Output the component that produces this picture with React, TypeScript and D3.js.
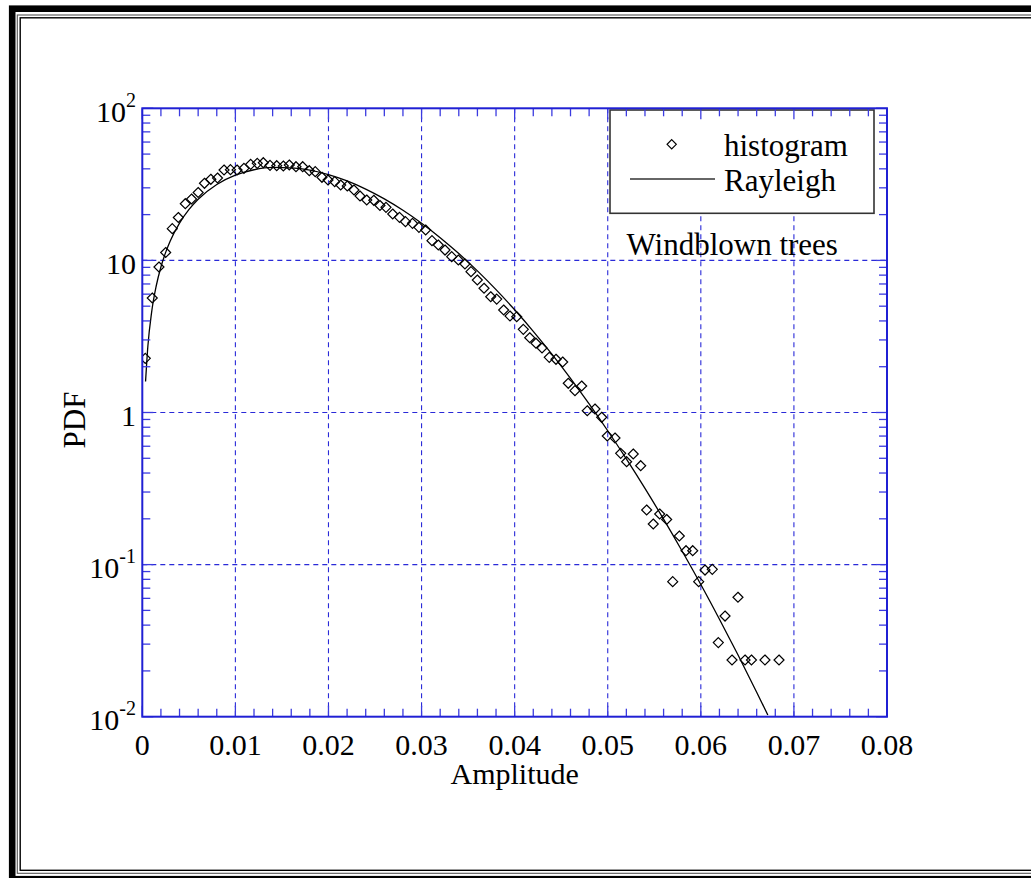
import React from "react";
import * as d3 from "d3";

// ---- data ----
const histX = [
  0.00032, 0.00107, 0.00179, 0.00251, 0.00322, 0.00387, 0.00462, 0.00529, 0.006, 0.00668,
  0.00736, 0.00808, 0.00878, 0.00947, 0.01018, 0.01092, 0.01164, 0.01235, 0.013, 0.01372,
  0.01444, 0.01515, 0.01579, 0.01651, 0.01723, 0.01794, 0.01858, 0.0193, 0.01995, 0.02067,
  0.02131, 0.02202, 0.02274, 0.02339, 0.02411, 0.02487, 0.02553, 0.02618, 0.0269, 0.02763,
  0.02827, 0.02903, 0.02972, 0.03044, 0.03112, 0.0318, 0.03252, 0.03324, 0.03395, 0.03466,
  0.03531, 0.03599, 0.03671, 0.03743, 0.03807, 0.03882, 0.0395, 0.04022, 0.04093, 0.04162,
  0.04229, 0.04294, 0.04372, 0.04444, 0.04516, 0.04576, 0.04648, 0.0472, 0.0478, 0.04863,
  0.04935, 0.04995, 0.05078, 0.05139, 0.05203, 0.05274, 0.05354, 0.05418, 0.05489, 0.05558,
  0.05633, 0.05698, 0.05769, 0.05841, 0.05913, 0.05977, 0.06045, 0.06123, 0.06188, 0.0626,
  0.06335, 0.06399, 0.06475, 0.06544, 0.06689, 0.0684,
];
const histY = [
  2.271, 5.658, 9.05, 11.27, 16.16, 19.14, 23.59, 25.33, 27.95, 32.13,
  34.14, 34.82, 39.3, 39.48, 39.3, 40.32, 42.83, 43.48, 43.88, 42.19,
  41.93, 41.74, 42.38, 41.3, 41.3, 38.88, 38.31, 35.19, 33.78, 32.92,
  31.31, 30.85, 29.03, 26.5, 24.95, 24.84, 22.95, 22.34, 20.19, 19.2,
  17.97, 17.53, 16.5, 15.85, 13.48, 12.63, 11.7, 10.58, 10.06, 9.47,
  8.43, 7.43, 6.56, 5.77, 5.57, 4.72, 4.31, 4.26, 3.52, 3.1,
  2.855, 2.656, 2.306, 2.238, 2.148, 1.556, 1.391, 1.494, 1.027, 1.054,
  0.93, 0.7005, 0.6796, 0.5392, 0.4748, 0.5335, 0.4468, 0.2286, 0.1849, 0.2151,
  0.1979, 0.0772, 0.1542, 0.1234, 0.1234, 0.0772, 0.0921, 0.0931, 0.0307, 0.0459,
  0.0236, 0.061, 0.0236, 0.0236, 0.0236, 0.0236,
];
const curveX = [
  0.00035, 0.0006, 0.001, 0.0015, 0.002, 0.0025, 0.003, 0.004, 0.005, 0.006, 0.008, 0.01,
  0.012, 0.014, 0.016, 0.018, 0.02, 0.022, 0.024, 0.026, 0.028, 0.03, 0.032, 0.034, 0.036,
  0.038, 0.04, 0.042, 0.044, 0.046, 0.048, 0.05, 0.052, 0.054, 0.056, 0.058, 0.06, 0.062,
  0.064, 0.066, 0.0672,
];
const curveY = [
  1.598, 2.737, 4.555, 6.813, 9.048, 11.25, 13.42, 17.6, 21.56, 25.23, 31.56, 36.34,
  39.45, 40.86, 40.54, 39.22, 36.64, 33.28, 29.42, 25.37, 21.35, 17.56, 14.11, 11.09, 8.53,
  6.42, 4.735, 3.419, 2.419, 1.677, 1.139, 0.7587, 0.4953, 0.317, 0.1989, 0.1224, 0.074, 0.04376,
  0.02542, 0.01449, 0.01026,
];
const xTickValues = [0, 0.01, 0.02, 0.03, 0.04, 0.05, 0.06, 0.07, 0.08];
const xTickLabels = ["0", "0.01", "0.02", "0.03", "0.04", "0.05", "0.06", "0.07", "0.08"];
const yTickValues = [0.01, 0.1, 1, 10, 100];
const yTickBase = ["10", "10", "1", "10", "10"];
const yTickExp = ["-2", "-1", "", "", "2"];
const xGridValues = [0.01, 0.02, 0.03, 0.04, 0.05, 0.06, 0.07];
const yGridValues = [0.1, 1, 10];
const legendLabels = ["histogram", "Rayleigh"];
const annotation = "Windblown trees";
const xLabel = "Amplitude";
const yLabel = "PDF";

const W = 1031;
const H = 878;
const P = { left: 142.3, right: 887, top: 108.3, bottom: 716.7 };
const FONT = "'Liberation Serif', 'Times New Roman', serif";
const AXIS = "#2020d4";
const TICK = "#3b3be0";
const GRID = "#2a2ad8";

const diamond = (r: number) => `M0,${-r}L${r},0L0,${r}L${-r},0Z`;

export default function App() {
  const x = d3.scaleLinear().domain([0, 0.08]).range([P.left, P.right]);
  const y = d3.scaleLog().domain([0.01, 100]).range([P.bottom, P.top]);

  const minorX = d3.range(0, 41).map((i) => i * 0.002).filter((v) => Math.round(v * 1000) % 10 !== 0);
  const minorY: number[] = [];
  [-2, -1, 0, 1].forEach((d) => {
    for (let m = 2; m <= 9; m++) minorY.push(m * Math.pow(10, d));
  });

  const line = d3
    .line<number>()
    .x((_, i) => x(curveX[i]))
    .y((_, i) => y(curveY[i]))
    .curve(d3.curveMonotoneX);

  const minorLen = 8;
  const majorLen = 11;

  return (
    <div style={{ position: "absolute", left: 0, top: 0, width: W, height: H, background: "#fff" }}>
      <svg width={W} height={H} style={{ display: "block" }} fontFamily={FONT}>
        <rect x={0} y={0} width={W} height={H} fill="#fff" />
        {/* frame */}
        <rect x={12.2} y={8.7} width={1040} height={870.5} fill="none" stroke="#000" strokeWidth={6.6} />
        <rect x={17.3} y={15} width={1030} height={858.3} fill="none" stroke="#555" strokeWidth={1.1} />
        <rect x={20.2} y={17.8} width={1030} height={852.5} fill="none" stroke="#000" strokeWidth={1.4} />

        <defs>
          <clipPath id="plotclip">
            <rect x={P.left} y={P.top} width={P.right - P.left} height={P.bottom - P.top} />
          </clipPath>
        </defs>

        {/* grid */}
        {xGridValues.map((v) => (
          <line key={"gx" + v} x1={x(v)} x2={x(v)} y1={P.top} y2={P.bottom} stroke={GRID} strokeWidth={1.1} strokeDasharray="5,4" />
        ))}
        {yGridValues.map((v) => (
          <line key={"gy" + v} x1={P.left} x2={P.right} y1={y(v)} y2={y(v)} stroke={GRID} strokeWidth={1.1} strokeDasharray="5,4" />
        ))}

        {/* legend box */}
        <rect x={610} y={110} width={264} height={103.3} fill="#fff" stroke="#333" strokeWidth={1.6} />
        <path d={diamond(4.6)} transform={`translate(671.7,144.3)`} fill="none" stroke="#000" strokeWidth={1.2} />
        <line x1={630} x2={715} y1={179} y2={179} stroke="#333" strokeWidth={1.3} />
        <text x={724} y={156} fontSize={31} fill="#000">{legendLabels[0]}</text>
        <text x={724} y={190.5} fontSize={31} fill="#000">{legendLabels[1]}</text>
        <text x={626.5} y={255} fontSize={31} fill="#000">{annotation}</text>

        {/* data */}
        <g clipPath="url(#plotclip)">
          <path d={line(curveX) || ""} fill="none" stroke="#000" strokeWidth={1.3} />
          {histX.map((v, i) => (
            <path
              key={"p" + i}
              d={diamond(5)}
              transform={`translate(${x(v)},${y(histY[i])})`}
              fill="none"
              stroke="#000"
              strokeWidth={1.2}
            />
          ))}
        </g>

        {/* ticks */}
        {minorX.map((v) => (
          <g key={"mx" + v}>
            <line x1={x(v)} x2={x(v)} y1={P.bottom} y2={P.bottom - minorLen} stroke={TICK} strokeWidth={1.3} />
            <line x1={x(v)} x2={x(v)} y1={P.top} y2={P.top + minorLen} stroke={TICK} strokeWidth={1.3} />
          </g>
        ))}
        {xTickValues.map((v) => (
          <g key={"Mx" + v}>
            <line x1={x(v)} x2={x(v)} y1={P.bottom} y2={P.bottom - majorLen} stroke={TICK} strokeWidth={1.3} />
            <line x1={x(v)} x2={x(v)} y1={P.top} y2={P.top + majorLen} stroke={TICK} strokeWidth={1.3} />
          </g>
        ))}
        {minorY.map((v) => (
          <g key={"my" + v}>
            <line x1={P.left} x2={P.left + minorLen} y1={y(v)} y2={y(v)} stroke={TICK} strokeWidth={1.3} />
            <line x1={P.right} x2={P.right - minorLen} y1={y(v)} y2={y(v)} stroke={TICK} strokeWidth={1.3} />
          </g>
        ))}
        {yTickValues.map((v) => (
          <g key={"My" + v}>
            <line x1={P.left} x2={P.left + majorLen} y1={y(v)} y2={y(v)} stroke={TICK} strokeWidth={1.3} />
            <line x1={P.right} x2={P.right - majorLen} y1={y(v)} y2={y(v)} stroke={TICK} strokeWidth={1.3} />
          </g>
        ))}

        {/* axes box */}
        <rect x={P.left} y={P.top} width={P.right - P.left} height={P.bottom - P.top} fill="none" stroke={AXIS} strokeWidth={2} />

        {/* tick labels */}
        {xTickValues.map((v, i) => (
          <text key={"xl" + v} x={x(v)} y={755} fontSize={30} textAnchor="middle" fill="#000">
            {xTickLabels[i]}
          </text>
        ))}
        {yTickValues.map((v, i) => (
          <text key={"yl" + v} x={136} y={y(v) + 13.5} fontSize={30} textAnchor="end" fill="#000">
            <tspan>{yTickBase[i]}</tspan>
            {yTickExp[i] ? (
              <tspan dy={-15} fontSize={20}>
                {yTickExp[i]}
              </tspan>
            ) : null}
          </text>
        ))}

        {/* axis titles */}
        <text x={(P.left + P.right) / 2} y={784} fontSize={30} textAnchor="middle" fill="#000">
          {xLabel}
        </text>
        <text transform="translate(85,420) rotate(-90)" fontSize={31} textAnchor="middle" fill="#000">
          {yLabel}
        </text>
      </svg>
    </div>
  );
}
